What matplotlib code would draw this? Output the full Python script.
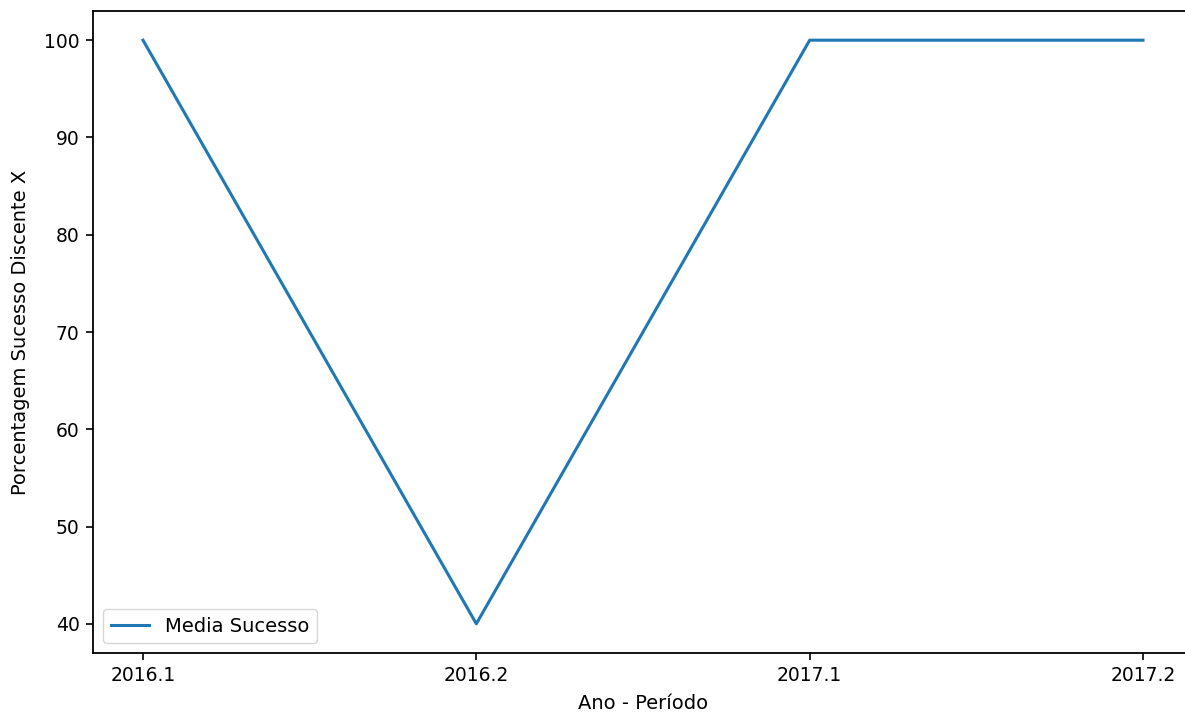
import matplotlib.pyplot as plt

periodos = ['2016.1', '2016.2', '2017.1', '2017.2']
media_sucesso = [100, 40, 100, 100]


def main():
    fig = plt.figure(figsize=(11.85, 7.12), dpi=100)
    # axes run a little past the right edge, as in the original (cropped) figure
    ax = fig.add_axes([93 / 1185, 1 - 653 / 712, (1193 - 93) / 1185, (653 - 11) / 712])
    ax.plot(periodos, media_sucesso, label='Media Sucesso', color='#1f77b4', linewidth=2.2)
    ax.set_xlabel('Ano - Período', fontsize=14, labelpad=6)
    ax.set_ylabel('Porcentagem Sucesso Discente X', fontsize=14, labelpad=10)
    ax.tick_params(labelsize=13.5, length=4.7, width=1.2, pad=5)
    for spine in ax.spines.values():
        spine.set_linewidth(1.3)
    # right edge is cut off in the original
    ax.spines['right'].set_visible(False)
    ax.legend(loc='lower left', fontsize=14)
    fig.savefig('out.png', dpi=100)
    plt.close(fig)


if __name__ == '__main__':
    main()
